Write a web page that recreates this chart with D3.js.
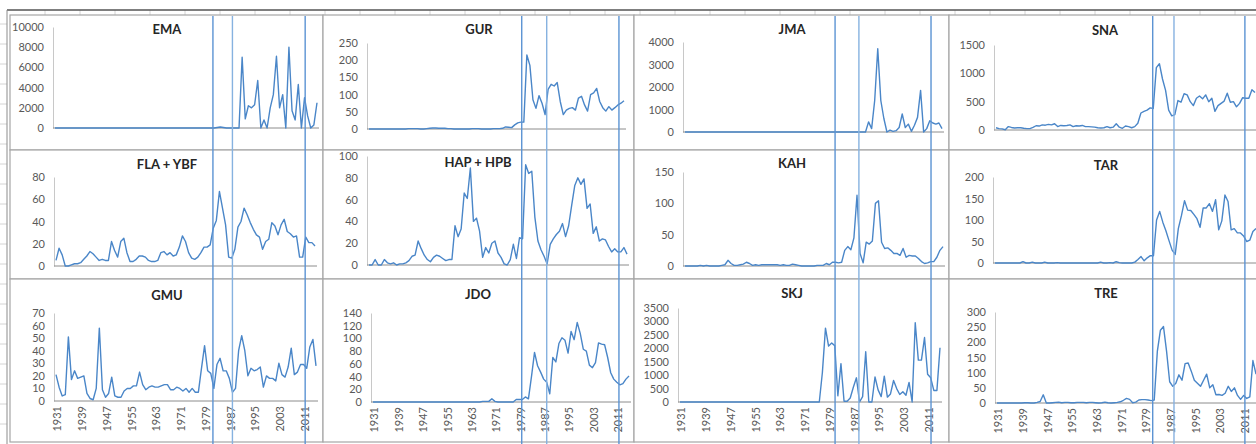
<!DOCTYPE html>
<html>
<head>
<meta charset="utf-8">
<script src="https://cdn.jsdelivr.net/npm/d3@7"></script>
<style>
  body { margin: 0; background: #fff; }
  svg { display: block; }
  text { font-family: Lato, "Open Sans", sans-serif; }
</style>
</head>
<body>
<script>
// years on the category axis, and the ones that get a label
var years = d3.range(1931, 2016);
var labelYears = [1931, 1939, 1947, 1955, 1963, 1971, 1979, 1987, 1995, 2003, 2011];

var titles = ["EMA", "GUR", "JMA", "SNA", "FLA + YBF", "HAP + HPB", "KAH", "TAR", "GMU", "JDO", "SKJ", "TRE"];

var ema = [0,0,0,0,0,0,0,0,0,0, 0,0,0,0,0,0,0,0,0,0, 0,0,0,0,0,0,0,0,0,0, 0,0,0,0,0,0,0,0,0,0,
  0,0,0,0,0,0,0,0,0,0, 0,0,50,100,50,0,0,0,0,0,
  7000,900,2200,2000,2300,4700,0,800,0,2000, 3300,7100,2000,3300,0,8000,1700,800,4300,0, 3000,1200,0,300,2500];
var gur = [0,0,0,0,0,0,0,0,0,0, 0,0,0,1,1,1,1,0,0,1, 2,3,3,2,2,2,1,1,0,0, 0,0,0,0,1,1,1,0,0,0,
  0,1,1,1,2,6,5,4,12,18, 20,20,215,185,85,60,97,75,42,115,
  130,125,135,80,42,55,60,62,55,90, 95,70,52,100,105,118,80,62,52,65, 55,62,70,75,82];
var jma = [0,0,0,0,0,0,0,0,0,0, 0,0,0,0,0,0,0,0,0,0, 0,0,0,0,0,0,0,0,0,0, 0,0,0,0,0,0,0,0,0,0,
  0,0,0,0,0,0,0,0,0,0, 0,0,0,0,0,0,0,0,0,0,
  450,150,1400,3700,1400,600,0,80,30,60, 200,800,200,350,30,300,650,1850,0,150, 500,400,350,400,150];
var sna = [40,25,20,5,60,45,35,40,40,30, 25,25,45,75,70,90,85,100,90,110, 60,80,75,80,90,60,75,70,80,60,
  60,55,50,40,35,40,60,40,50,110, 50,30,70,60,40,60,120,300,330,350,
  390,380,1100,1170,900,700,350,250,270,520, 490,640,620,500,430,560,600,550,620,500,
  560,330,430,470,510,650,490,500,410,470, 570,560,560,710,660];
var flaYbf = [5,16,10,0,0,1,2,2,3,6, 9,13,11,8,5,6,5,5,22,14, 8,22,25,12,4,4,6,9,9,8,
  5,4,4,5,12,13,10,12,9,10, 17,27,22,12,7,6,8,12,17,17,
  19,34,41,67,52,37,8,7,15,35, 40,52,46,39,33,28,26,15,22,24,
  39,36,28,37,42,31,29,26,27,8, 8,26,21,21,18];
var hapHpb = [0,0,5,0,0,5,2,1,2,0, 1,1,2,4,8,9,22,15,9,5, 3,7,9,8,6,4,5,5,36,26,
  33,66,61,89,40,43,31,7,16,11, 20,22,11,7,1,0,5,19,6,25,
  24,92,84,86,44,22,14,8,1,19, 24,28,31,38,26,36,55,73,80,74,
  79,52,56,29,35,22,24,23,17,12, 15,12,12,16,10];
var kah = [0,0,0,0,0,1,0,1,0,0, 0,0,1,2,9,4,1,1,2,3, 6,4,1,2,1,2,2,2,2,2,
  2,1,2,1,1,3,2,1,0,0, 0,0,0,1,1,1,4,2,6,6,
  5,6,25,31,26,45,113,20,5,38, 35,40,100,104,38,28,29,25,20,20,
  17,28,14,17,16,16,12,7,4,5, 7,7,14,25,31];
var tar = [0,0,0,0,0,0,0,0,0,3, 0,0,2,0,0,0,2,0,0,0, 1,0,0,0,0,0,0,0,0,0,
  0,0,0,0,2,0,0,1,0,3, 1,0,0,0,0,2,8,15,5,12,
  17,17,100,120,95,75,52,30,20,80, 110,145,123,122,113,103,83,128,128,138,
  120,147,77,98,158,143,77,80,70,70, 63,50,53,73,80];
var gmu = [21,11,4,5,51,17,24,18,19,20, 6,2,1,10,58,9,3,6,19,4, 3,3,8,10,10,12,12,23,13,9,
  11,12,11,11,12,13,13,9,9,11, 10,8,10,7,10,7,7,26,44,24,
  22,10,29,34,24,24,18,7,10,40, 52,40,20,26,24,25,27,11,20,18,
  18,16,30,21,19,27,42,21,23,29, 29,26,43,49,28];
var jdo = [0,0,0,0,0,0,0,0,0,0, 0,0,0,0,0,0,0,0,0,0, 0,0,0,0,0,0,0,0,0,0,
  0,0,0,0,0,0,1,1,1,5, 1,0,0,0,0,0,0,4,4,4,
  8,5,40,78,57,47,36,31,13,70, 63,92,101,97,77,111,98,125,108,83,
  80,58,54,62,93,91,90,70,46,36, 31,27,29,36,41];
var skj = [0,0,0,0,0,0,0,0,0,0, 0,0,0,0,0,0,0,0,0,0, 0,0,0,0,0,0,0,0,0,0, 0,0,0,0,0,0,0,0,0,0,
  0,0,0,0,0,0,1100,2750,2080,2200,
  2100,230,1430,30,30,150,550,900,0,200, 1870,0,0,930,450,200,960,180,300,800,
  500,280,380,250,730,0,2950,1560,1560,2400, 1030,900,430,430,2020];
var tre = [0,0,0,0,0,0,0,0,0,1, 1,0,0,2,5,27,0,0,1,2, 3,1,2,2,1,1,2,2,2,1,
  2,2,1,0,1,3,1,0,1,2, 4,9,15,12,1,3,10,11,11,10,
  8,10,170,240,252,170,70,55,65,93, 75,130,132,105,75,65,55,75,95,50,
  60,27,28,25,32,55,38,50,25,12, 25,15,20,140,95];

var series = [ema, gur, jma, sna, flaYbf, hapHpb, kah, tar, gmu, jdo, skj, tre];
var axisMax = [10000, 250, 4000, 1500, 80, 100, 150, 200, 70, 140, 3500, 300];
var axisStep = [2000, 50, 1000, 500, 20, 20, 50, 50, 10, 20, 500, 50];

// regime shift years, one set per column of charts
var shiftYears = [[1981.7, 1988, 2011.5], [1979.8, 1988, 2011.7], [1981.1, 1988.8, 2012.1], [1981.5, 1988.4, 2011.4]];

var W = 1256, H = 444;
var svg = d3.select("body").append("svg").attr("width", W).attr("height", H);

// spreadsheet behind the charts
var sheet = svg.append("g");
d3.range(45, W, 35).forEach(function(gx) {
  sheet.append("line").attr("x1", gx).attr("x2", gx).attr("y1", 10).attr("y2", 16)
    .attr("stroke", "#d4d4d4");
});
d3.range(24, H, 20).forEach(function(gy) {
  sheet.append("line").attr("x1", 0).attr("x2", 7).attr("y1", gy).attr("y2", gy)
    .attr("stroke", "#d4d4d4");
});
sheet.append("line").attr("x1", 7).attr("x2", W).attr("y1", 10).attr("y2", 10)
  .attr("stroke", "#555").attr("stroke-width", 1.5);
sheet.append("line").attr("x1", 7).attr("x2", 7).attr("y1", 10).attr("y2", H)
  .attr("stroke", "#8c8c8c").attr("stroke-width", 1);

// chart boxes
var colX = [[10, 323], [323, 634], [634, 949], [949, 1264]];
var rowY = [[15, 150], [150, 279], [279, 442]];

// plot areas: first/last point x, and y of max / zero
var plotX = [[55, 317], [369, 624], [685, 942], [996, 1255],
             [56, 315], [369, 627], [685, 943], [995, 1256],
             [56, 316], [373, 629], [680, 940], [997, 1256]];
var plotY = [[27, 128], [43, 129], [42, 132], [45, 130],
             [177, 266], [156, 265], [172, 266], [177, 263],
             [313, 401], [313, 402], [308, 402], [312, 403]];
var titlePos = [[167, 34], [479, 34], [792, 34], [1105, 35],
                [167, 169], [478, 167], [792, 168], [1106, 170],
                [167, 300], [478, 299], [792, 298], [1106, 298]];

var lineColor = "#4a86c8";
var colScales = [];

series.forEach(function(vals, i) {
  var col = i % 4, row = Math.floor(i / 4);
  var g = svg.append("g");

  g.append("rect")
    .attr("x", colX[col][0]).attr("y", rowY[row][0])
    .attr("width", colX[col][1] - colX[col][0]).attr("height", rowY[row][1] - rowY[row][0])
    .attr("fill", "#fff").attr("stroke", "#a6a6a6").attr("stroke-width", 1.2);

  var x = d3.scaleLinear().domain([years[0], years[years.length - 1]]).range(plotX[i]);
  var y = d3.scaleLinear().domain([0, axisMax[i]]).range([plotY[i][1], plotY[i][0]]);
  if (row == 2) colScales[col] = x;

  var ax0 = x(years[0]) - 2, ax1 = x(years[years.length - 1]) + 2;

  // y axis
  var yAxis = d3.axisLeft(y)
    .tickValues(d3.range(0, axisMax[i] + 1, axisStep[i]))
    .tickFormat(d3.format("d"))
    .tickSize(0).tickPadding(9);
  var yg = g.append("g").attr("transform", "translate(" + ax0 + ",0)").call(yAxis);
  yg.select(".domain").attr("stroke", "#c8c8c8");
  yg.selectAll("text").attr("fill", "#595959").style("font-size", "11px");

  // x axis
  var xg = g.append("g").attr("transform", "translate(0," + y(0) + ")");
  xg.append("line").attr("x1", ax0).attr("x2", ax1).attr("stroke", "#8c8c8c");
  if (row == 2) {
    var xAxis = d3.axisBottom(x).tickValues(labelYears).tickSize(0).tickFormat(d3.format("d"));
    var lg = xg.append("g").call(xAxis);
    lg.select(".domain").remove();
    lg.selectAll("text")
      .attr("transform", "rotate(-90)")
      .attr("text-anchor", "end")
      .attr("x", -5).attr("y", 1).attr("dy", "0.35em")
      .attr("fill", "#595959").style("font-size", "11px");
  }

  // series
  var line = d3.line()
    .x(function(d, k) { return x(years[k]); })
    .y(function(d) { return y(d); });
  g.append("path").datum(vals)
    .attr("d", line)
    .attr("fill", "none").attr("stroke", lineColor)
    .attr("stroke-width", 1.4).attr("stroke-linejoin", "round");

  g.append("text")
    .attr("x", titlePos[i][0]).attr("y", titlePos[i][1])
    .attr("text-anchor", "middle")
    .style("font-size", "13px").style("font-weight", "bold")
    .attr("fill", "#262626")
    .text(titles[i]);
});

// regime shift lines drawn across each column
shiftYears.forEach(function(ys, col) {
  var x = colScales[col];
  ys.forEach(function(yr, k) {
    svg.append("line")
      .attr("x1", x(yr)).attr("x2", x(yr))
      .attr("y1", 16).attr("y2", H)
      .attr("stroke", k == 1 ? "#86b2e0" : "#5b93d3")
      .attr("stroke-width", 1.4);
  });
});
</script>
</body>
</html>
